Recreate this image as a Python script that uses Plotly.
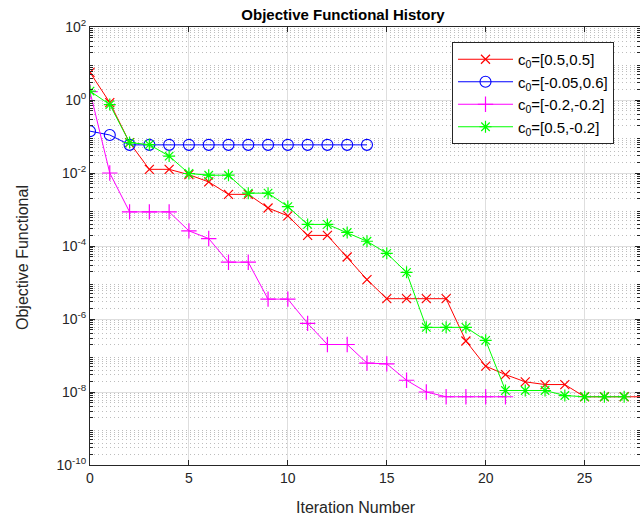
import plotly.graph_objects as go

# ---- data ----
red_x = list(range(0, 29))
red_y = [5.7, 0.85, 0.068, 0.0126, 0.0126, 0.009, 0.0057, 0.0026, 0.0026, 0.0011,
         6.7e-4, 1.95e-4, 1.95e-4, 5.0e-5, 1.2e-5, 3.6e-6, 3.6e-6, 3.6e-6, 3.6e-6,
         2.5e-7, 5.1e-8, 3.0e-8, 1.9e-8, 1.6e-8, 1.6e-8, 7.4e-9, 7.4e-9, 7.4e-9, 7.4e-9]

blue_x = list(range(0, 15))
blue_y = [0.14, 0.11, 0.059, 0.059, 0.059, 0.059, 0.059, 0.059, 0.059, 0.059,
          0.059, 0.059, 0.059, 0.059, 0.059]

mag_x = list(range(0, 22))
mag_y = [1.7, 0.01, 8.6e-4, 8.6e-4, 8.6e-4, 2.6e-4, 1.6e-4, 3.6e-5, 3.6e-5, 3.5e-6,
         3.5e-6, 7.6e-7, 2.0e-7, 2.0e-7, 6.2e-8, 5.9e-8, 2.1e-8, 1.0e-8, 7.4e-9,
         7.4e-9, 7.4e-9, 7.4e-9]

green_x = list(range(0, 28))
green_y = [1.75, 0.75, 0.068, 0.06, 0.029, 0.0097, 0.0087, 0.0087, 0.0028, 0.0028,
           1.2e-3, 3.9e-4, 3.9e-4, 2.35e-4, 1.35e-4, 6.3e-5, 1.9e-5, 5.9e-7, 5.9e-7,
           5.9e-7, 2.6e-7, 1.1e-8, 1.1e-8, 1.1e-8, 8.0e-9, 7.4e-9, 7.4e-9, 7.4e-9]

names = ["c<sub>0</sub>=[0.5,0.5]", "c<sub>0</sub>=[-0.05,0.6]",
         "c<sub>0</sub>=[-0.2,-0.2]", "c<sub>0</sub>=[0.5,-0.2]"]

x_ticks = [0, 5, 10, 15, 20, 25]
y_exps = [-10, -8, -6, -4, -2, 0, 2]

FONT = "Liberation Sans, Arial, sans-serif"
AX = "#262626"

fig = go.Figure()
fig.add_trace(go.Scatter(x=red_x, y=red_y, name=names[0], mode="lines+markers",
                         line=dict(color="#FF0000", width=1),
                         marker=dict(symbol="x-thin-open", size=9,
                                     line=dict(color="#FF0000", width=1.2))))
fig.add_trace(go.Scatter(x=blue_x, y=blue_y, name=names[1], mode="lines+markers",
                         line=dict(color="#0000FF", width=1),
                         marker=dict(symbol="circle-open", size=11,
                                     line=dict(color="#0000FF", width=1.1))))
fig.add_trace(go.Scatter(x=mag_x, y=mag_y, name=names[2], mode="lines+markers",
                         line=dict(color="#FF00FF", width=1),
                         marker=dict(symbol="cross-thin-open", size=11,
                                     line=dict(color="#FF00FF", width=1.2))))
fig.add_trace(go.Scatter(x=green_x, y=green_y, name=names[3], mode="lines+markers",
                         line=dict(color="#00FF00", width=1),
                         marker=dict(symbol="asterisk-open", size=10,
                                     line=dict(color="#00FF00", width=1.2))))

minor_vals = []
for e in range(-10, 2):
    for m in range(2, 10):
        minor_vals.append(m * 10.0 ** e)

fig.update_layout(
    width=640, height=520,
    margin=dict(l=90, r=0, t=27, b=55),
    paper_bgcolor="white", plot_bgcolor="white",
    font=dict(family=FONT, size=14, color=AX),
    showlegend=True,
    legend=dict(x=(452 - 90) / 550, y=(465 - 42) / 438, xanchor="left", yanchor="top",
                bgcolor="white", bordercolor=AX, borderwidth=1,
                font=dict(family=FONT, size=15, color="black"),
                itemwidth=55, tracegroupgap=0),
    title=dict(text="<b>Objective Functional History</b>", xref="container", yref="container",
               x=343 / 640, y=1 - 15 / 520, xanchor="center", yanchor="middle",
               font=dict(family=FONT, size=15, color="black")),
    xaxis=dict(range=[0, 27.8], tickmode="array", tickvals=x_ticks,
               ticktext=[str(v) for v in x_ticks],
               ticks="inside", ticklen=5, tickcolor=AX, mirror="ticks",
               showline=True, linecolor=AX, linewidth=1,
               showgrid=True, gridcolor="#dedede", gridwidth=1, zeroline=False,
               tickfont=dict(size=14, color=AX)),
    yaxis=dict(type="log", range=[-10, 2], tickmode="array",
               tickvals=[10.0 ** e for e in y_exps],
               ticktext=["10<sup>%d</sup>" % e for e in y_exps],
               ticks="inside", ticklen=5, tickcolor=AX, mirror="ticks",
               showline=True, linecolor=AX, linewidth=1,
               showgrid=True, gridcolor="#dedede", gridwidth=1, zeroline=False,
               tickfont=dict(size=14, color=AX),
               minor=dict(tickmode="array", tickvals=minor_vals, ticks="inside",
                          ticklen=3, tickcolor=AX, showgrid=True,
                          gridcolor="#bdbdbd", griddash="1px,3px", gridwidth=1)),
    annotations=[
        dict(text="Iteration Number", xref="paper", yref="paper",
             x=(356 - 90) / 550, y=(465 - 507) / 438, xanchor="center", yanchor="middle",
             showarrow=False, font=dict(family=FONT, size=16, color=AX)),
        dict(text="Objective Functional", xref="paper", yref="paper",
             x=(22 - 90) / 550, y=(465 - 258) / 438, xanchor="center", yanchor="middle",
             textangle=-90, showarrow=False, font=dict(family=FONT, size=16, color=AX)),
    ],
)

fig.write_html("out.html")
